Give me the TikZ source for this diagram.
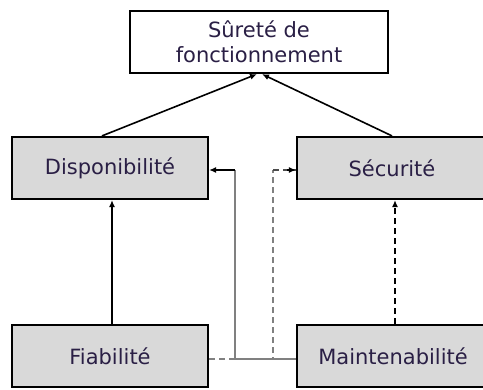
\documentclass[tikz,border=0pt]{standalone}
\usepackage{fontspec}
\setmainfont{DejaVu Sans}
\usetikzlibrary{arrows.meta}
\definecolor{boxgray}{HTML}{D9D9D9}
\definecolor{linegray}{HTML}{808080}
\definecolor{txt}{HTML}{2A1F45}
\begin{document}
\begin{tikzpicture}[x=1pt,y=-1pt,
  lab/.style={text=txt,font=\fontsize{21}{25}\selectfont},
  box/.style={draw=black,line width=2.2pt,inner sep=0pt,lab},
  grayBox/.style={box,fill=boxgray},
  tip/.style={-{Latex[length=7pt,width=6pt]}},
  link/.style={line width=1.6pt},
  dsh/.style={dash pattern=on 6pt off 4pt}]
\useasboundingbox (0,0) rectangle (483,390);
\node[box,fill=white,minimum width=258pt,minimum height=62pt,align=center] (sdf) at (259,42) {Sûreté de\\fonctionnement};
\node[grayBox,minimum width=196pt,minimum height=62pt] (dis) at (110,168) {Disponibilité};
\node[grayBox,minimum width=196pt,minimum height=62pt] (sec) at (395,168) {};
\node[lab] (seclab) at (392,168) {Sécurité};
\node[grayBox,minimum width=196pt,minimum height=62pt] (fia) at (110,356) {Fiabilité};
\node[grayBox,minimum width=196pt,minimum height=62pt] (mai) at (395,356) {};
\node[lab] (mailab) at (393,356) {Maintenabilité};
% top arrows
\draw[link,tip] ([xshift=-8pt]dis.north) -- ([xshift=-2pt]sdf.south);
\draw[link,tip] ([xshift=-3pt]sec.north) -- ([xshift=3pt]sdf.south);
% vertical arrows
\draw[link,tip] ([xshift=2pt]fia.north) -- ([xshift=2pt]dis.south);
\draw[link,dsh,tip] (mai.north) -- (sec.south);
% cross links
\coordinate (c1) at (235,359);
\coordinate (c2) at (235,170);
\coordinate (d1) at (273,359);
\coordinate (d2) at (273,170);
\draw[link,linegray,dsh] (fia.east |- d1) -- (d1) -- (d2);
\draw[link,dsh,black!70] (d2) -- (sec.west |- d2);
\draw[link,-{Latex[length=7pt,width=6pt]},black] (d2) ++(14pt,0) -- (sec.west |- d2);
\draw[link,linegray] (mai.west |- c1) -- (c1) -- (c2);
\draw[link,tip,black] (c2) -- (dis.east |- c2);
\end{tikzpicture}
\end{document}
